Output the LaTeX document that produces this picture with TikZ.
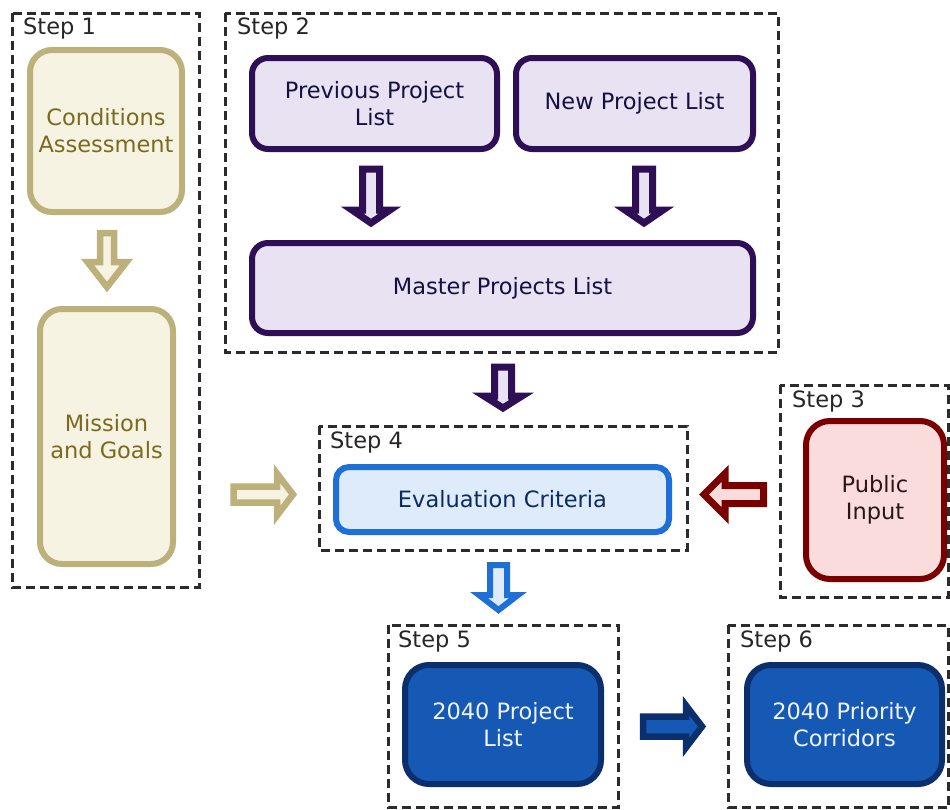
\documentclass[tikz,border=0pt]{standalone}
\usepackage{fontspec}
\setmainfont{DejaVu Sans}
\definecolor{khakiD}{HTML}{BDB17B}
\definecolor{khakiL}{HTML}{F7F3E3}
\definecolor{khakiT}{HTML}{7A6A20}
\definecolor{purD}{HTML}{2E0F55}
\definecolor{purL}{HTML}{E9E2F3}
\definecolor{purT}{HTML}{141040}
\definecolor{bluD}{HTML}{1E6FD6}
\definecolor{bluL}{HTML}{DDEBFB}
\definecolor{bluT}{HTML}{0C2B5E}
\definecolor{redD}{HTML}{7A0000}
\definecolor{redL}{HTML}{FADCDC}
\definecolor{redT}{HTML}{2A1616}
\definecolor{navyD}{HTML}{0B2E6C}
\definecolor{navyF}{HTML}{1659B4}
\definecolor{navyT}{HTML}{EEF3FB}
\definecolor{dashgray}{HTML}{2B2B2B}
% cx, top, headstart, tip, shafthalf, headhalf, style
\newcommand{\arrdown}[7]{\draw[#7] ({#1-#5},#2) -- ({#1+#5},#2) -- ({#1+#5},#3) -- ({#1+#6},#3) -- (#1,#4) -- ({#1-#6},#3) -- ({#1-#5},#3) -- cycle;}
% cy, tail x, headstart x, tip x, shafthalf, headhalf, style
\newcommand{\arrhoriz}[7]{\draw[#7] (#2,{#1-#5}) -- (#3,{#1-#5}) -- (#3,{#1-#6}) -- (#4,#1) -- (#3,{#1+#6}) -- (#3,{#1+#5}) -- (#2,{#1+#5}) -- cycle;}
\begin{document}
\begin{tikzpicture}[x=1pt,y=-1pt,
  stepbox/.style={draw=dashgray, line width=3pt, dash pattern=on 9pt off 5pt},
  steplabel/.style={anchor=base west, inner sep=0pt, text=black!85, font=\fontsize{22.5}{27}\selectfont},
  card/.style={rounded corners=#1, line width=6pt, align=center, inner sep=0pt, font=\fontsize{22.5}{27}\selectfont},
  khakicard/.style={card=22pt, draw=khakiD, fill=khakiL, text=khakiT},
  purcard/.style={card=16pt, draw=purD, fill=purL, text=purT},
  blucard/.style={card=13pt, draw=bluD, fill=bluL, text=bluT},
  redcard/.style={card=24pt, draw=redD, fill=redL, text=redT},
  navycard/.style={card=24pt, draw=navyD, fill=navyF, text=navyT},
  khakiarrow/.style={draw=khakiD, fill=khakiL, line width=6.5pt, line join=miter},
  purarrow/.style={draw=purD, fill=purL, line width=7pt, line join=miter},
  bluarrow/.style={draw=bluD, fill=bluL, line width=6pt, line join=miter},
  redarrow/.style={draw=redD, fill=redL, line width=7pt, line join=miter},
  navyarrow/.style={draw=navyD, fill=navyF, line width=6.5pt, line join=miter},
]
\useasboundingbox (0,0) rectangle (950,809);
\fill[white] (0,0) rectangle (950,809);

% dashed step frames
\draw[stepbox] (12,13) rectangle (199,587);
\draw[stepbox] (225,13) rectangle (778,352);
\draw[stepbox] (319,426) rectangle (687,550);
\draw[stepbox] (780,385) rectangle (948.5,597);
\draw[stepbox] (388,625) rectangle (618,807.5);
\draw[stepbox] (728,625) rectangle (948.5,807.5);

\node[steplabel] (s1) at (23,34) {Step 1};
\node[steplabel] (s2) at (237,34) {Step 2};
\node[steplabel] (s4) at (330,448) {Step 4};
\node[steplabel] (s3) at (792,407) {Step 3};
\node[steplabel] (s5) at (398,647) {Step 5};
\node[steplabel] (s6) at (740,647) {Step 6};

% boxes
\node[khakicard, minimum width=152pt, minimum height=162pt] (cond) at (106,131) {Conditions\\Assessment};
\node[khakicard, minimum width=133pt, minimum height=255pt] (miss) at (106.5,436.5) {Mission\\and Goals};
\node[purcard, minimum width=245pt, minimum height=91pt] (prev) at (374.5,103.5) {Previous Project\\List};
\node[purcard, minimum width=237pt, minimum height=91pt] (new) at (634.5,103.5) {New Project List};
\node[purcard, minimum width=501pt, minimum height=90pt] (master) at (502.5,288) {Master Projects List};
\node[blucard, minimum width=333pt, minimum height=65pt] (eval) at (502.5,499.5) {Evaluation Criteria};
\node[redcard, minimum width=138pt, minimum height=158pt] (pub) at (875,500) {Public\\Input};
\node[navycard, minimum width=196pt, minimum height=119pt] (plist) at (503,724.5) {2040 Project\\List};
\node[navycard, minimum width=195pt, minimum height=119pt] (corr) at (844.5,724.5) {2040 Priority\\Corridors};

% block arrows
\arrdown{107}{233}{262}{287}{7}{19.5}{khakiarrow}
\arrdown{371}{169}{210}{223}{8.5}{19}{purarrow}
\arrdown{644}{169}{210}{223}{8.5}{19}{purarrow}
\arrdown{503}{367}{396}{408}{8.5}{19}{purarrow}
\arrhoriz{494.5}{233.5}{277}{293}{8}{21}{khakiarrow}
\arrhoriz{494.5}{763.5}{725}{704}{9}{21}{redarrow}
\arrdown{498.5}{565}{595}{610}{8.5}{19.5}{bluarrow}
\arrhoriz{726.5}{643}{686}{702}{10}{21}{navyarrow}
\end{tikzpicture}
\end{document}
